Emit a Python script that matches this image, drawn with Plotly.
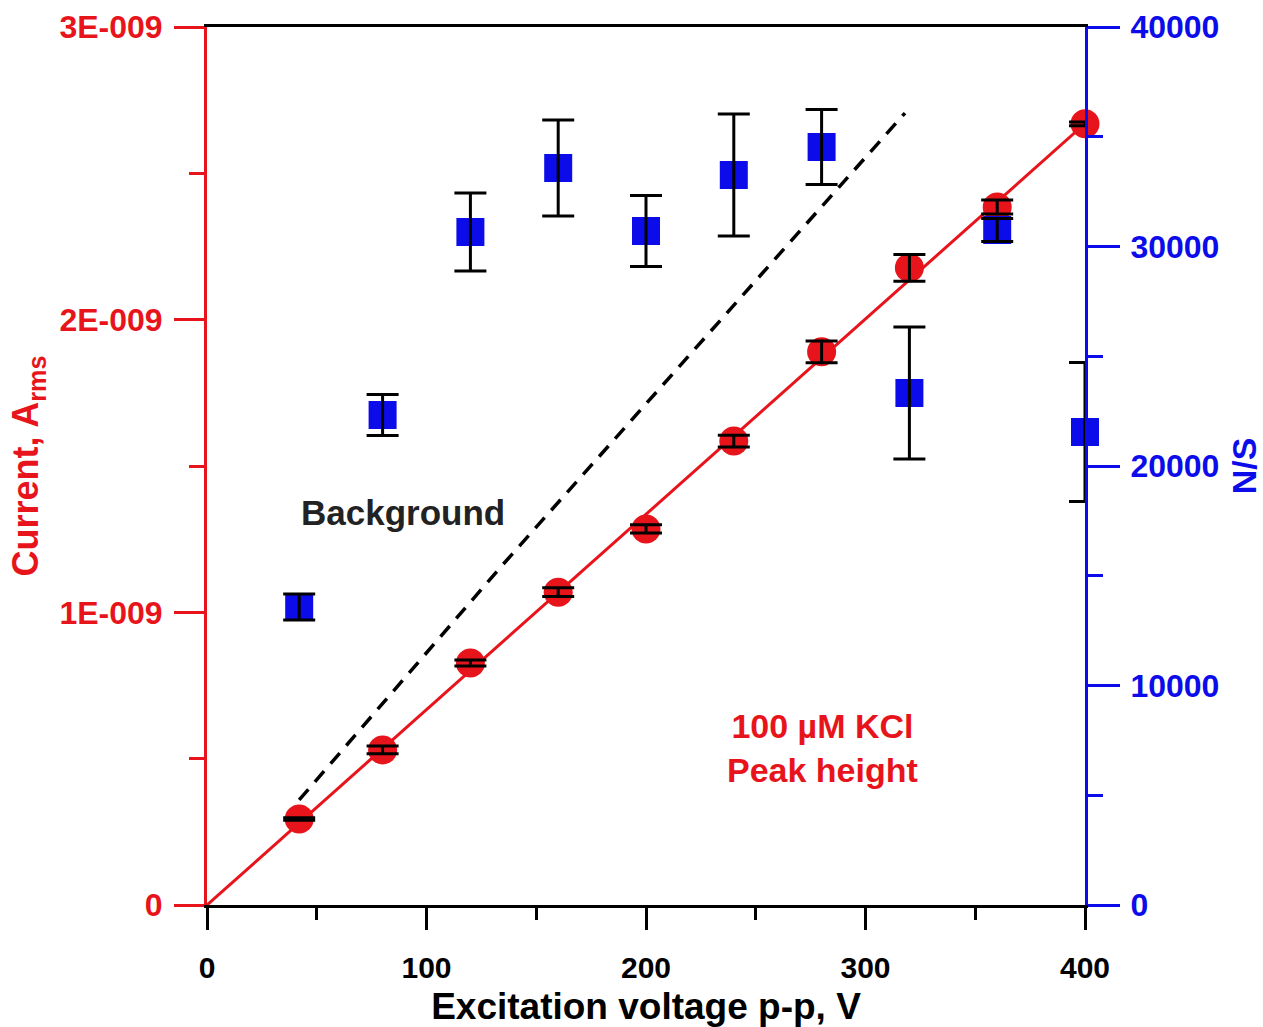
import plotly.graph_objects as go

# ---- data ----
voltage = [42, 80, 120, 160, 200, 240, 280, 320, 360, 400]
current = [0.294e-9, 0.530e-9, 0.827e-9, 1.069e-9, 1.285e-9, 1.585e-9, 1.890e-9, 2.177e-9, 2.385e-9, 2.669e-9]
current_err = [0.004e-9, 0.013e-9, 0.010e-9, 0.015e-9, 0.014e-9, 0.020e-9, 0.037e-9, 0.046e-9, 0.024e-9, 0.006e-9]
sn = [13576, 22323, 30661, 33576, 30706, 33257, 34533, 23326, 30752, 21549]
sn_err = [592, 934, 1777, 2187, 1617, 2779, 1708, 3007, 524, 3166]
fit_x = [0, 400]
fit_y = [0, 2.67e-9]
bg_x = [42, 135, 318]
bg_y = [0.359e-9, 1.165e-9, 2.706e-9]
left_ticks = [0, 1e-9, 2e-9, 3e-9]
left_ticktext = ["0", "1E-009", "2E-009", "3E-009"]
right_ticks = [0, 10000, 20000, 30000, 40000]
right_ticktext = ["0", "10000", "20000", "30000", "40000"]
x_ticks = [0, 100, 200, 300, 400]

RED = "#e8141b"
BLUE = "#0c0cea"
FONT = "Liberation Sans, Arial, sans-serif"

fig = go.Figure()

# red fit line
fig.add_trace(go.Scatter(x=fit_x, y=fit_y, mode="lines", cliponaxis=False,
                         line=dict(color=RED, width=3), showlegend=False))
# background dashed line
fig.add_trace(go.Scatter(x=bg_x, y=bg_y, mode="lines",
                         line=dict(color="black", width=3.5, dash="14px,10px"), showlegend=False))
# red circles
fig.add_trace(go.Scatter(x=voltage, y=current, mode="markers", cliponaxis=False,
                         marker=dict(symbol="circle", size=29, color=RED), showlegend=False))
# blue squares
fig.add_trace(go.Scatter(x=voltage, y=sn, mode="markers", yaxis="y2", cliponaxis=False,
                         marker=dict(symbol="square", size=28, color=BLUE), showlegend=False))
# error bars drawn on top
fig.add_trace(go.Scatter(x=voltage, y=current, mode="markers", cliponaxis=False,
                         marker=dict(size=1, color="rgba(0,0,0,0)"),
                         error_y=dict(type="data", array=current_err, color="black", thickness=3, width=16),
                         showlegend=False))
fig.add_trace(go.Scatter(x=voltage, y=sn, mode="markers", yaxis="y2", cliponaxis=False,
                         marker=dict(size=1, color="rgba(0,0,0,0)"),
                         error_y=dict(type="data", array=sn_err, color="black", thickness=3, width=16),
                         showlegend=False))

fig.add_annotation(x=(403 - 207) / 2.195, y=(905 - 512) / 878 * 3e-9, xref="x", yref="y",
                   text="<b>Background</b>", showarrow=False,
                   font=dict(family=FONT, size=35, color="#222222"))
fig.add_annotation(x=(822 - 207) / 2.195, y=(905 - 748) / 878 * 3e-9, xref="x", yref="y",
                   text="<b>100 µM KCl<br>Peak height</b>", showarrow=False,
                   font=dict(family=FONT, size=34, color=RED))

fig.update_layout(
    width=1263, height=1027,
    margin=dict(l=207, r=178, t=27, b=122, autoexpand=False),
    paper_bgcolor="white", plot_bgcolor="white",
    font=dict(family=FONT),
    xaxis=dict(range=[0, 400], tickvals=x_ticks, showgrid=False, zeroline=False,
               showline=True, linecolor="black", linewidth=3, mirror=True,
               ticks="outside", ticklen=22, tickwidth=3, tickcolor="black",
               minor=dict(ticks="outside", dtick=50, ticklen=12, tickwidth=3, tickcolor="black"),
               tickfont=dict(family=FONT, size=30, color="black", weight="bold"),
               ticklabelstandoff=12,
               title=dict(text="<b>Excitation voltage p-p, V</b>", standoff=12,
                          font=dict(family=FONT, size=37, color="black"))),
    yaxis=dict(range=[0, 3e-9], tickvals=left_ticks, ticktext=left_ticktext,
               showgrid=False, zeroline=False,
               showline=True, linecolor=RED, linewidth=3,
               ticks="outside", ticklen=30, tickwidth=3, tickcolor=RED,
               minor=dict(ticks="outside", dtick=0.5e-9, ticklen=15, tickwidth=3, tickcolor=RED),
               tickfont=dict(family=FONT, size=32, color=RED, weight="bold"),
               ticklabelstandoff=5,
               title=dict(text="<b>Current, A<sub>rms</sub></b>", standoff=10,
                          font=dict(family=FONT, size=36, color=RED))),
    yaxis2=dict(range=[0, 40000], tickvals=right_ticks, ticktext=right_ticktext,
                overlaying="y", side="right",
                showgrid=False, zeroline=False,
                showline=True, linecolor=BLUE, linewidth=3,
                ticks="outside", ticklen=32, tickwidth=3, tickcolor=BLUE,
                minor=dict(ticks="outside", dtick=5000, ticklen=15, tickwidth=3, tickcolor=BLUE),
                tickfont=dict(family=FONT, size=32, color=BLUE, weight="bold"),
                ticklabelstandoff=4,
                title=dict(text="<b>N/S</b>", standoff=14,
                           font=dict(family=FONT, size=34, color=BLUE))),
)

fig.write_html("out.html")
